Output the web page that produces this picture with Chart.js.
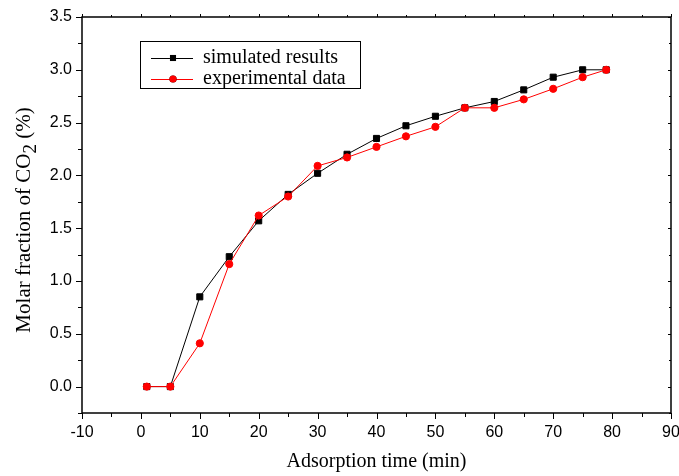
<!DOCTYPE html>
<html>
<head>
<meta charset="utf-8">
<script src="https://cdn.jsdelivr.net/npm/chart.js@4.4.0/dist/chart.umd.min.js"></script>
<style>
  html, body { margin: 0; padding: 0; background: #fff; }
  #wrap { width: 679px; height: 476px; }
</style>
</head>
<body>
<div id="wrap"><canvas id="co2Chart" width="679" height="476"></canvas></div>
<script>
// adsorption time (min)
const times = [1, 5, 10, 15, 20, 25, 30, 35, 40, 45, 50, 55, 60, 65, 70, 75, 79];
const simulated = [0, 0, 0.85, 1.23, 1.57, 1.82, 2.02, 2.20, 2.35, 2.47, 2.56, 2.64, 2.70, 2.81, 2.93, 3.00, 3.00];
const experimental = [0, 0, 0.41, 1.16, 1.62, 1.80, 2.09, 2.17, 2.27, 2.37, 2.46, 2.64, 2.64, 2.72, 2.82, 2.93, 3.00];
const seriesNames = ["simulated results", "experimental data"];
const yTickValues = [0, 0.5, 1.0, 1.5, 2.0, 2.5, 3.0, 3.5];
const xTitle = "Adsorption time (min)";
const yTitleParts = ["Molar fraction of CO", "2", " (%)"];

const ctx = document.getElementById("co2Chart");
const serif = "'Liberation Serif', 'Times New Roman', serif";
const sans = "'Liberation Sans', Arial, sans-serif";

function toPoints(ys) {
  return times.map((t, i) => ({ x: t, y: ys[i] }));
}

function noScalePadding(scale) {
  scale.paddingLeft = 0;
  scale.paddingRight = 0;
  scale.paddingTop = 0;
  scale.paddingBottom = 0;
}

// tick marks, frame, y title with subscript and the boxed legend
const decorPlugin = {
  id: "decor",
  afterDraw(chart) {
    const c = chart.ctx;
    const area = chart.chartArea;
    const xs = chart.scales.x;
    const ys = chart.scales.y;
    c.save();
    c.strokeStyle = "#000";
    c.lineWidth = 1.5;
    c.strokeRect(area.left, area.top, area.right - area.left, area.bottom - area.top);

    c.lineWidth = 1;
    c.beginPath();
    for (let v = -10; v <= 90; v += 5) {
      const px = Math.round(xs.getPixelForValue(v)) + 0.5;
      const major = v % 10 === 0;
      c.moveTo(px, area.bottom);
      c.lineTo(px, area.bottom + (major ? 6 : 4));
      c.moveTo(px, area.top);
      c.lineTo(px, area.top - (major ? 3 : 2));
    }
    for (let i = -1; i <= 14; i++) {
      const py = Math.round(ys.getPixelForValue(i * 0.25)) + 0.5;
      const major = i % 2 === 0;
      c.moveTo(area.left, py);
      c.lineTo(area.left - (major ? 6 : 4), py);
      c.moveTo(area.right, py);
      c.lineTo(area.right - (major ? 3 : 2), py);
    }
    c.stroke();

    // y axis title with subscript
    c.fillStyle = "#000";
    c.textBaseline = "alphabetic";
    const big = "21px " + serif;
    const small = "19px " + serif;
    c.font = big;
    const w1 = c.measureText(yTitleParts[0]).width;
    const w3 = c.measureText(yTitleParts[2]).width;
    c.font = small;
    const w2 = c.measureText(yTitleParts[1]).width;
    const total = w1 + w2 + w3;
    c.translate(30, 220);
    c.rotate(-Math.PI / 2);
    let cx = -total / 2;
    c.font = big;
    c.fillText(yTitleParts[0], cx, 0);
    cx += w1;
    c.font = small;
    c.fillText(yTitleParts[1], cx, 6);
    cx += w2;
    c.font = big;
    c.fillText(yTitleParts[2], cx, 0);
    c.setTransform(1, 0, 0, 1, 0, 0);

    // legend box
    const lx = 140, ly = 41, lw = 220, lh = 47;
    c.fillStyle = "#fff";
    c.fillRect(lx, ly, lw, lh);
    c.strokeStyle = "#000";
    c.lineWidth = 1;
    c.strokeRect(lx + 0.5, ly + 0.5, lw, lh);
    c.font = "20px " + serif;
    c.textBaseline = "middle";
    const order = [1, 0];
    order.forEach((dsIndex, row) => {
      const ds = chart.data.datasets[dsIndex];
      const y = ly + 17 + row * 21;
      c.strokeStyle = ds.borderColor;
      c.lineWidth = 1;
      c.beginPath();
      c.moveTo(lx + 11, y + 0.5);
      c.lineTo(lx + 53, y + 0.5);
      c.stroke();
      Chart.helpers.drawPoint(c, {
        pointStyle: ds.pointStyle,
        radius: ds.pointRadius,
        borderWidth: 0
      }, lx + 33, y);
      c.fillStyle = ds.pointBackgroundColor;
      c.fill();
      c.fillStyle = "#000";
      c.fillText(ds.label, lx + 63, y);
    });
    c.restore();
  }
};

const co2Chart = new Chart(ctx, {
  type: "line",
  data: {
    datasets: [
      {
        label: seriesNames[1],
        data: toPoints(experimental),
        borderColor: "#ff0000",
        backgroundColor: "#ff0000",
        pointBackgroundColor: "#ff0000",
        pointBorderColor: "#ff0000",
        pointStyle: "circle",
        pointRadius: 3.6,
        borderWidth: 1,
        order: 0
      },
      {
        label: seriesNames[0],
        data: toPoints(simulated),
        borderColor: "#000000",
        backgroundColor: "#000000",
        pointBackgroundColor: "#000000",
        pointBorderColor: "#000000",
        pointStyle: "rect",
        pointRadius: 4.3,
        borderWidth: 1,
        order: 1
      }
    ]
  },
  options: {
    responsive: false,
    animation: false,
    layout: { padding: { top: 17, right: 8, left: 0, bottom: 0 } },
    plugins: {
      legend: { display: false },
      tooltip: { enabled: false }
    },
    scales: {
      x: {
        type: "linear",
        min: -10,
        max: 90,
        grid: { display: false, drawTicks: false },
        border: { display: false },
        ticks: {
          stepSize: 10,
          padding: 10,
          color: "#000",
          font: { family: sans, size: 16 }
        },
        title: {
          display: true,
          text: xTitle,
          color: "#000",
          padding: { top: 0, bottom: 2 },
          font: { family: serif, size: 20 }
        },
        afterFit(scale) {
          scale.height = 63;
          noScalePadding(scale);
        }
      },
      y: {
        type: "linear",
        min: -0.25,
        max: 3.5,
        grid: { display: false, drawTicks: false },
        border: { display: false },
        afterBuildTicks(scale) {
          scale.ticks = yTickValues.map((v) => ({ value: v }));
        },
        ticks: {
          padding: 10,
          color: "#000",
          font: { family: sans, size: 16 },
          callback: (v) => v.toFixed(1)
        },
        afterFit(scale) {
          scale.width = 82;
          noScalePadding(scale);
        }
      }
    }
  },
  plugins: [decorPlugin]
});
</script>
</body>
</html>
